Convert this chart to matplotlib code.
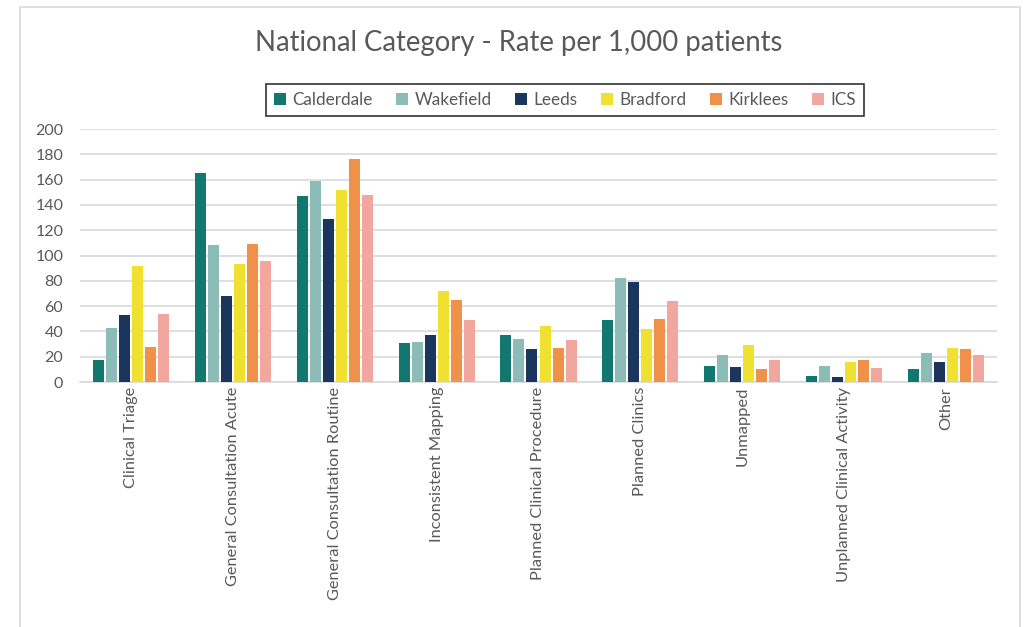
import numpy as np
import matplotlib
matplotlib.use("Agg")
import matplotlib.pyplot as plt
from matplotlib.patches import Rectangle

plt.rcParams['font.family'] = ['Lato', 'DejaVu Sans']

categories = ["Clinical Triage", "General Consultation Acute", "General Consultation Routine",
              "Inconsistent Mapping", "Planned Clinical Procedure", "Planned Clinics",
              "Unmapped", "Unplanned Clinical Activity", "Other"]

calderdale = [17, 165, 147, 31, 37, 49, 13, 5, 10]
wakefield = [43, 108, 159, 32, 34, 82, 21, 13, 23]
leeds = [53, 68, 129, 37, 26, 79, 12, 4, 16]
bradford = [92, 93, 152, 72, 44, 42, 29, 16, 27]
kirklees = [28, 109, 176, 65, 27, 50, 10, 17, 26]
ics = [54, 96, 148, 49, 33, 64, 17, 11, 21]

series = [("Calderdale", calderdale, "#12776f"),
          ("Wakefield", wakefield, "#8cbcb7"),
          ("Leeds", leeds, "#1b365d"),
          ("Bradford", bradford, "#f0e130"),
          ("Kirklees", kirklees, "#f0914a"),
          ("ICS", ics, "#f1a69e")]

fig = plt.figure(figsize=(10.29, 6.27), dpi=100)
fig.patch.set_facecolor("white")
# outer chart border
fig.add_artist(Rectangle((20 / 1029, -0.05), 1000 / 1029, 1 - 7 / 627 + 0.05,
                         transform=fig.transFigure, fill=False,
                         edgecolor="#d9d9d9", linewidth=1.2))

ax = fig.add_axes([80 / 1029, 1 - 382 / 627, 917 / 1029, 253 / 627])

x = np.arange(len(categories))
w = 0.108
step = 0.128
for i, (name, vals, col) in enumerate(series):
    ax.bar(x + (i - 2.5) * step, vals, width=w, color=col, label=name, zorder=3)

ax.set_xlim(-0.5, len(categories) - 0.5)
ax.set_ylim(0, 200)
ax.set_yticks(range(0, 201, 20))
ax.yaxis.grid(True, color="#d9d9d9", linewidth=1.2, zorder=0)
ax.set_axisbelow(True)
for s in ["top", "right", "left"]:
    ax.spines[s].set_visible(False)
ax.spines["bottom"].set_color("#d9d9d9")
ax.spines["bottom"].set_linewidth(1.2)
ax.tick_params(axis="both", length=0, colors="#595959", labelsize=11.5)
ax.tick_params(axis="y", pad=12)
ax.set_xticks(x)
ax.set_xticklabels(categories, rotation=90, fontsize=11.8, color="#595959")

fig.text(519 / 1029, 1 - 43 / 627, "National Category - Rate per 1,000 patients",
         ha="center", va="center", fontsize=19.8, color="#595959")

leg = fig.legend(loc="center", bbox_to_anchor=(565 / 1029, 1 - 100 / 627), ncol=6,
                 frameon=True, fancybox=False, fontsize=12.3, handlelength=0.7,
                 handleheight=0.7, handletextpad=0.4, columnspacing=1.35,
                 borderpad=0.45)
leg.get_frame().set_edgecolor("black")
leg.get_frame().set_linewidth(1.2)
for t in leg.get_texts():
    t.set_color("#595959")

fig.savefig("out.png", dpi=100)
